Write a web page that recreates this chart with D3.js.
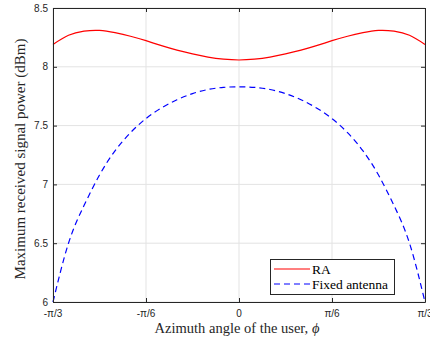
<!DOCTYPE html>
<html><head><meta charset="utf-8">
<script src="https://cdn.jsdelivr.net/npm/d3@7"></script>
<style>body{margin:0;background:#fff}</style>
</head><body>
<svg id="c" width="430" height="339"></svg>
<script>
const angleDeg = [-60,-55,-50,-45,-40,-35,-30,-25,-20,-15,-10,-5,0,5,10,15,20,25,30,35,40,45,50,55,60];
const raValues = [8.19,8.268,8.303,8.309,8.29,8.26,8.222,8.18,8.142,8.11,8.083,8.065,8.058,8.065,8.083,8.11,8.142,8.18,8.222,8.26,8.29,8.309,8.303,8.268,8.19];
const fixedValues = [6.0,6.5,6.82,7.08,7.285,7.44,7.56,7.65,7.72,7.772,7.807,7.825,7.83,7.825,7.807,7.772,7.72,7.65,7.56,7.44,7.285,7.08,6.82,6.5,6.0];
const xTickDeg = [-60,-30,0,30,60];
const xTickLabels = ["-π/3","-π/6","0","π/6","π/3"];
const yTicks = [6,6.5,7,7.5,8,8.5];
const yTickLabels = ["6","6.5","7","7.5","8","8.5"];
const seriesNames = ["RA","Fixed antenna"];

const svg = d3.select("#c");
const L=53, R=425, T=8, B=302;
const x = d3.scaleLinear().domain([-60,60]).range([L,R]);
const y = d3.scaleLinear().domain([6,8.5]).range([B,T]);
const axisCol="#262626", gridCol="#e3e3e3";
const sans="'Liberation Sans', Arial, sans-serif", serif="'Liberation Serif','Times New Roman',serif";

// grid
svg.append("g").selectAll("line").data(xTickDeg).join("line")
 .attr("x1",d=>x(d)).attr("x2",d=>x(d)).attr("y1",T).attr("y2",B)
 .attr("stroke",gridCol).attr("stroke-width",1);
svg.append("g").selectAll("line").data(yTicks).join("line")
 .attr("x1",L).attr("x2",R).attr("y1",d=>y(d)).attr("y2",d=>y(d))
 .attr("stroke",gridCol).attr("stroke-width",1);

// lines
const mk = vals => d3.line().x((d,i)=>x(angleDeg[i])).y(d=>y(d)).curve(d3.curveNatural)(vals);
svg.append("path").attr("d",mk(raValues)).attr("fill","none").attr("stroke","#ff0000").attr("stroke-width",1.2);
svg.append("path").attr("d",mk(fixedValues)).attr("fill","none").attr("stroke","#0000ff").attr("stroke-width",1.2).attr("stroke-dasharray","6,4");

// axes (inward ticks)
const tl=4;
const xb = svg.append("g").attr("transform",`translate(0,${B})`)
 .call(d3.axisBottom(x).tickValues(xTickDeg).tickFormat("").tickSizeInner(-tl).tickSizeOuter(0));
const xt = svg.append("g").attr("transform",`translate(0,${T})`)
 .call(d3.axisTop(x).tickValues(xTickDeg).tickFormat("").tickSizeInner(-tl).tickSizeOuter(0));
const yl = svg.append("g").attr("transform",`translate(${L},0)`)
 .call(d3.axisLeft(y).tickValues(yTicks).tickFormat("").tickSizeInner(-tl).tickSizeOuter(0));
const yr = svg.append("g").attr("transform",`translate(${R},0)`)
 .call(d3.axisRight(y).tickValues(yTicks).tickFormat("").tickSizeInner(-tl).tickSizeOuter(0));
[xb,xt,yl,yr].forEach(g=>{g.selectAll("path,line").attr("stroke",axisCol).attr("stroke-width",1);});

// tick labels
svg.append("g").selectAll("text").data(xTickDeg).join("text")
 .attr("x",d=>x(d)).attr("y",B+15).attr("text-anchor","middle")
 .attr("font-family",sans).attr("font-size",10).attr("fill",axisCol)
 .text((d,i)=>xTickLabels[i]);
svg.append("g").selectAll("text").data(yTicks).join("text")
 .attr("x",L-5).attr("y",d=>y(d)+3.5).attr("text-anchor","end")
 .attr("font-family",sans).attr("font-size",10).attr("fill",axisCol)
 .text((d,i)=>yTickLabels[i]);

// axis titles
svg.append("text").attr("x",(L+R)/2-2).attr("y",333).attr("text-anchor","middle")
 .attr("font-family",serif).attr("font-size",14.5).attr("fill",axisCol)
 .html('Azimuth angle of the user, <tspan font-style="italic">ϕ</tspan>');
svg.append("text").attr("transform",`translate(25,${(T+B)/2+4}) rotate(-90)`).attr("text-anchor","middle")
 .attr("font-family",serif).attr("font-size",15).attr("fill",axisCol)
 .text("Maximum received signal power (dBm)");

// legend
const lg = svg.append("g");
lg.append("rect").attr("x",270.5).attr("y",259.5).attr("width",124).attr("height",35)
 .attr("fill","#fff").attr("stroke",axisCol).attr("stroke-width",1);
const styles=[{c:"#ff0000",d:null},{c:"#0000ff",d:"6,4"}];
seriesNames.forEach((n,i)=>{
  const yy=269+i*15;
  lg.append("line").attr("x1",274).attr("x2",310).attr("y1",yy).attr("y2",yy)
   .attr("stroke",styles[i].c).attr("stroke-width",1.2).attr("stroke-dasharray",styles[i].d);
  lg.append("text").attr("x",312).attr("y",yy+4.5).attr("font-family",serif).attr("font-size",13.5)
   .attr("fill","#000").text(n);
});
</script>
</body></html>
